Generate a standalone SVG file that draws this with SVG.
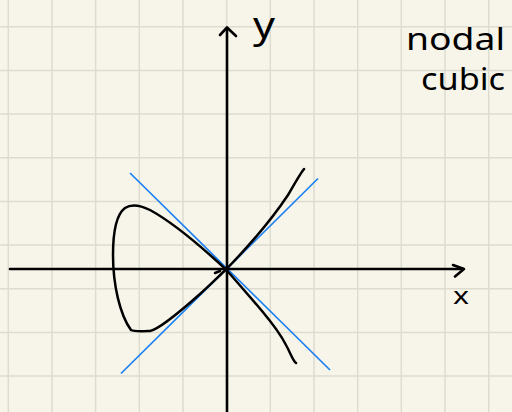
<svg xmlns="http://www.w3.org/2000/svg" width="512" height="412" viewBox="0 0 512 412">
<style>
.grid{stroke:#dedbcf;stroke-width:1.5;fill:none}
.axis{stroke:#000;stroke-width:2.6;fill:none;stroke-linecap:round;stroke-linejoin:round}
.curve{stroke:#000;stroke-width:2.5;fill:none;stroke-linecap:round;stroke-linejoin:round}
.tan{stroke:#1a80f2;stroke-width:1.7;fill:none}
.hand{font-family:"Noto Sans","DejaVu Sans",sans-serif;fill:#000}
</style>
<rect width="512" height="412" fill="#f7f5ea"/>
<g id="grid">
<path class="grid" d="M8.3,0V412M52,0V412M95.6,0V412M139.3,0V412M183,0V412M226.7,0V412M270.3,0V412M314,0V412M357.7,0V412M401.3,0V412M445,0V412M488.7,0V412M0,26.7H512M0,70.4H512M0,114H512M0,157.7H512M0,201.4H512M0,245H512M0,288.7H512M0,332.4H512M0,376H512"/>
</g>
<g id="tangents">
<line class="tan" x1="130" y1="173" x2="330" y2="370"/>
<line class="tan" x1="121" y1="373.5" x2="318" y2="178.5"/>
</g>
<g id="axes">
<path class="axis" d="M227,28V412"/>
<path class="axis" d="M220,35L227,27.5L236,36"/>
<path class="axis" d="M10,269H463"/>
<path class="axis" d="M453,265L464,269L455,276.5"/>
</g>
<g id="curve">
<path class="curve" d="M296,363 C293,361 290,352 286,345 C280,333 272,323 262,311 C250,297 238,283 226,269.5 C205,250 172,222 150,210 C140,205 131,204 125,208 C117,214 113,232 113,255 C113,285 120,315 131,330 C134,332 148,331 150,331 C160,329 182,310 200,294 C210,285 218,277 226,269.5 C245,250 270,222 288,195 C295,183 300,174 304,169"/>
<path class="curve" d="M215,273L220,271" stroke-width="3.2"/>
</g>
<g id="labels">
<text class="hand" x="253" y="38" font-size="36" textLength="22" lengthAdjust="spacingAndGlyphs">y</text>
<text class="hand" x="453" y="304" font-size="24" textLength="16" lengthAdjust="spacingAndGlyphs">x</text>
<text class="hand" x="406" y="50" font-size="30" textLength="99" lengthAdjust="spacingAndGlyphs">nodal</text>
<text class="hand" x="421" y="90" font-size="30" textLength="84" lengthAdjust="spacingAndGlyphs">cubic</text>
</g>
</svg>
